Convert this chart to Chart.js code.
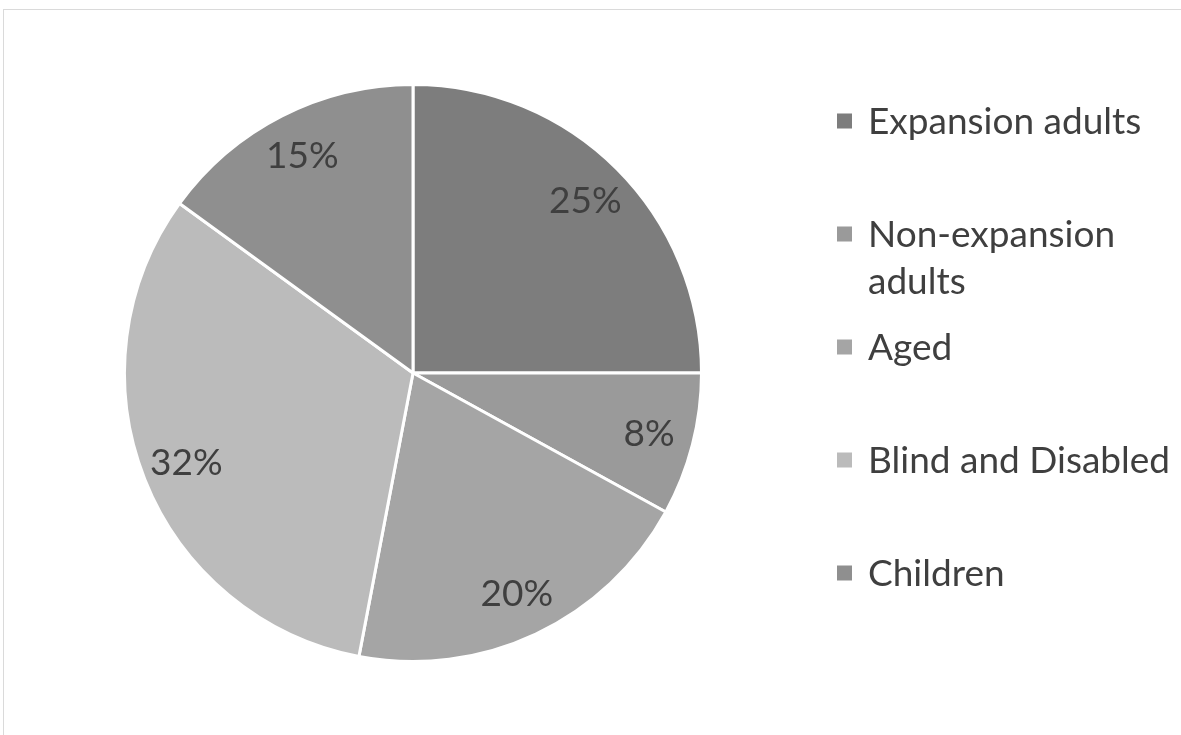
<!DOCTYPE html>
<html>
<head>
<meta charset="utf-8">
<title>Spending by eligibility group</title>
<script src="https://cdn.jsdelivr.net/npm/chart.js@4.4.0/dist/chart.umd.min.js"></script>
<style>
  html, body { margin: 0; padding: 0; background: #fff; }
  #wrap { position: relative; width: 1181px; height: 735px; overflow: hidden; }
  /* light chart-area frame, running off the right and bottom edges */
  #frame { position: absolute; left: 3px; top: 9px; width: 1300px; height: 900px; border: 1px solid #dadada; }
  #pieChart { position: absolute; left: 0; top: 0; }
</style>
</head>
<body>
<div id="wrap">
  <div id="frame"></div>
  <canvas id="pieChart" width="1181" height="735"></canvas>
</div>
<script>
// Share of spending by group (percent)
const groups = ['Expansion adults', 'Non-expansion adults', 'Aged', 'Blind and Disabled', 'Children'];
const shares = [25, 8, 20, 32, 15];
const sliceColors = ['#7d7d7d', '#9a9a9a', '#a5a5a5', '#bbbbbb', '#8f8f8f'];

const FONT = 'Lato, "Open Sans", sans-serif';
const TEXT_COLOR = '#3f3f3f';

// Percent labels inside each slice
const sliceLabels = {
    id: 'sliceLabels',
    afterDatasetsDraw(chart) {
        const ctx = chart.ctx;
        const meta = chart.getDatasetMeta(0);
        ctx.save();
        ctx.font = '37px ' + FONT;
        ctx.fillStyle = TEXT_COLOR;
        ctx.textAlign = 'center';
        ctx.textBaseline = 'middle';
        meta.data.forEach((arc, i) => {
            const mid = (arc.startAngle + arc.endAngle) / 2;
            const r = arc.outerRadius * 0.845;
            ctx.fillText(shares[i] + '%', arc.x + Math.cos(mid) * r, arc.y + Math.sin(mid) * r);
        });
        ctx.restore();
    }
};

// Legend on the right, one slot per group, long names wrapped
const sideLegend = {
    id: 'sideLegend',
    afterDraw(chart) {
        const ctx = chart.ctx;
        const markX = 837, markSize = 15, textX = 868;
        const firstBaseline = 134, slot = 113, lineHeight = 47;
        const maxWidth = chart.width - textX - 2;
        ctx.save();
        ctx.font = '37px ' + FONT;
        ctx.textAlign = 'left';
        ctx.textBaseline = 'alphabetic';
        groups.forEach((name, i) => {
            const base = firstBaseline + i * slot;
            ctx.fillStyle = sliceColors[i];
            ctx.fillRect(markX, base - 13 - markSize / 2, markSize, markSize);

            // simple word wrap
            const words = name.split(' ');
            const lines = [];
            let line = '';
            words.forEach(w => {
                const test = line ? line + ' ' + w : w;
                if (line && ctx.measureText(test).width > maxWidth) {
                    lines.push(line);
                    line = w;
                } else {
                    line = test;
                }
            });
            lines.push(line);

            ctx.fillStyle = TEXT_COLOR;
            lines.forEach((l, j) => ctx.fillText(l, textX, base + j * lineHeight));
        });
        ctx.restore();
    }
};

new Chart(document.getElementById('pieChart'), {
    type: 'pie',
    data: {
        labels: groups,
        datasets: [{
            data: shares,
            backgroundColor: sliceColors,
            borderColor: '#ffffff',
            borderWidth: 3
        }]
    },
    options: {
        responsive: false,
        animation: false,
        layout: { padding: { left: 123, right: 478, top: 83, bottom: 72 } },
        plugins: {
            legend: { display: false },
            tooltip: { enabled: false }
        }
    },
    plugins: [sliceLabels, sideLegend]
});
</script>
</body>
</html>
